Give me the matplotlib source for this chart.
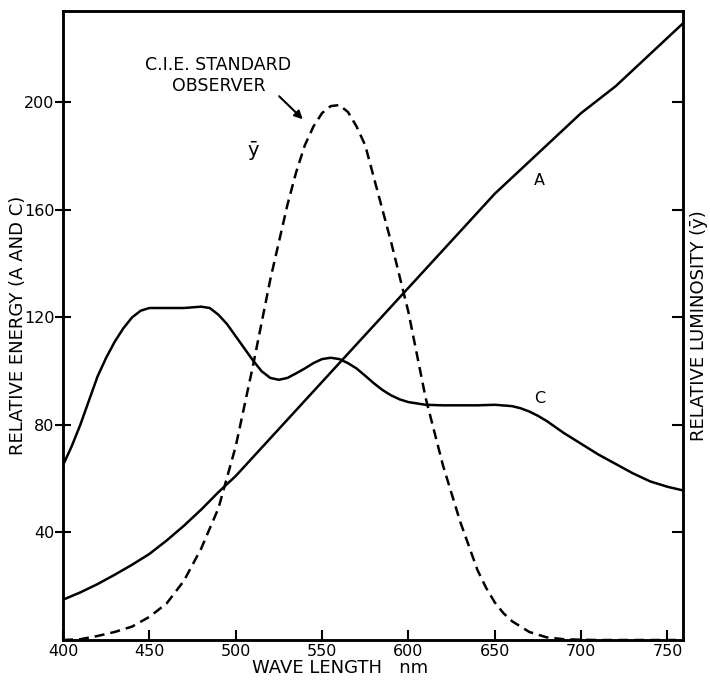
import matplotlib
matplotlib.use("Agg")
import matplotlib.pyplot as plt

# ---- data ----
wavelength_a = [400, 410, 420, 430, 440, 450, 460, 470, 480, 490,
                500, 510, 520, 530, 540, 550, 560, 570, 580, 590,
                600, 610, 620, 630, 640, 650, 660, 670, 680, 690,
                700, 710, 720, 730, 740, 750, 760]
illuminant_a = [15, 17.7, 20.8, 24.3, 28, 32, 37, 42.5, 48.5, 55,
                61, 68, 75, 82, 89, 96, 103, 110, 117, 124,
                131, 138, 145, 152, 159, 166, 172, 178, 184, 190,
                196, 201, 206, 212, 218, 224, 230]

wavelength_c = [400, 405, 410, 415, 420, 425, 430, 435, 440, 445,
                450, 460, 470, 480, 485, 490, 495, 500, 505, 510,
                515, 520, 525, 530, 535, 540, 545, 550, 555, 560,
                565, 570, 575, 580, 585, 590, 595, 600, 610, 620,
                630, 640, 650, 660, 665, 670, 675, 680, 690, 700,
                710, 720, 730, 740, 750, 760]
illuminant_c = [65, 72, 80, 89, 98, 105, 111, 116, 120, 122.5,
                123.5, 123.5, 123.5, 124, 123.5, 121, 117.5, 113, 108.5, 104,
                100, 97.5, 96.8, 97.5, 99.2, 101, 103, 104.5, 105, 104.5,
                103, 101, 98.3, 95.5, 93, 91, 89.5, 88.5, 87.5, 87.3,
                87.3, 87.3, 87.5, 87, 86.2, 85, 83.4, 81.5, 77, 73,
                69, 65.5, 62, 59, 57, 55.5]

wavelength_y = [400, 410, 420, 430, 440, 450, 460, 470, 480, 490,
                500, 510, 520, 530, 535, 540, 545, 550, 555, 560,
                565, 570, 575, 580, 590, 600, 610, 620, 630, 640,
                645, 650, 655, 660, 670, 680, 690, 700, 710, 720,
                730, 740, 750, 760]
ybar = [0, 0.0015, 0.0075, 0.015, 0.025, 0.043, 0.068, 0.11, 0.17, 0.245,
        0.36, 0.51, 0.67, 0.81, 0.87, 0.92, 0.955, 0.98, 0.993, 0.995,
        0.982, 0.955, 0.92, 0.86, 0.74, 0.61, 0.45, 0.325, 0.22, 0.13,
        0.097, 0.07, 0.05, 0.035, 0.015, 0.005, 0.0015, 0.0005, 0, 0,
        0, 0, 0, 0]

x_ticks = [400, 450, 500, 550, 600, 650, 700, 750]
energy_ticks = [40, 80, 120, 160, 200]
lum_ticks = [0.2, 0.4, 0.6, 0.8, 1.0]

# ---- figure ----
fig = plt.figure(figsize=(7.10, 6.84), dpi=100)
ax = fig.add_axes([0.0887, 0.0643, 0.8733, 0.9197])
ax2 = ax.twinx()

lw = 1.8
ax.plot(wavelength_a, illuminant_a, color="black", lw=lw,
        solid_capstyle="round", solid_joinstyle="round")
ax.plot(wavelength_c, illuminant_c, color="black", lw=lw,
        solid_capstyle="round", solid_joinstyle="round")
ax2.plot(wavelength_y, ybar, color="black", lw=lw, linestyle=(0, (4, 2.4)))

ax.set_xlim(400, 759)
ax.set_ylim(0, 234)
ax2.set_ylim(0, 234 / 200)

ax.set_xticks(x_ticks)
ax.set_xticklabels([str(v) for v in x_ticks], fontsize=11.5)
ax.set_yticks(energy_ticks)
ax.set_yticklabels([str(v) for v in energy_ticks], fontsize=11.5)
ax2.set_yticks(lum_ticks)
ax2.set_yticklabels([])

ax.tick_params(axis="x", direction="in", length=7, width=1.5, pad=3)
ax.tick_params(axis="y", direction="inout", length=12, width=1.5, pad=0)
ax2.tick_params(axis="y", direction="in", length=8, width=1.5)

for a in (ax, ax2):
    for s in a.spines.values():
        s.set_linewidth(1.8)

ax.set_xlabel("WAVE LENGTH   nm", fontsize=13)
ax.xaxis.set_label_coords(0.447, -0.030)
ax.set_ylabel("RELATIVE ENERGY (A AND C)", fontsize=13)
ax.yaxis.set_label_coords(-0.058, 0.5)
ax2.set_ylabel("RELATIVE LUMINOSITY (\u0233)", fontsize=13, rotation=90)
ax2.yaxis.set_label_coords(1.012, 0.5)

# annotations
ax.text(490, 210, "C.I.E. STANDARD\nOBSERVER", fontsize=12.5, ha="center",
        va="center", linespacing=1.25)
ax.annotate("", xy=(540, 193), xytext=(524, 203),
            arrowprops=dict(arrowstyle="-|>", color="black", lw=1.5,
                            mutation_scale=12))
ax.text(510, 182, "\u0233", fontsize=14, ha="center", va="center")
ax.text(676, 171, "A", fontsize=11.5, ha="center", va="center")
ax.text(676, 90, "C", fontsize=11.5, ha="center", va="center")

fig.savefig("out.png", dpi=100)
